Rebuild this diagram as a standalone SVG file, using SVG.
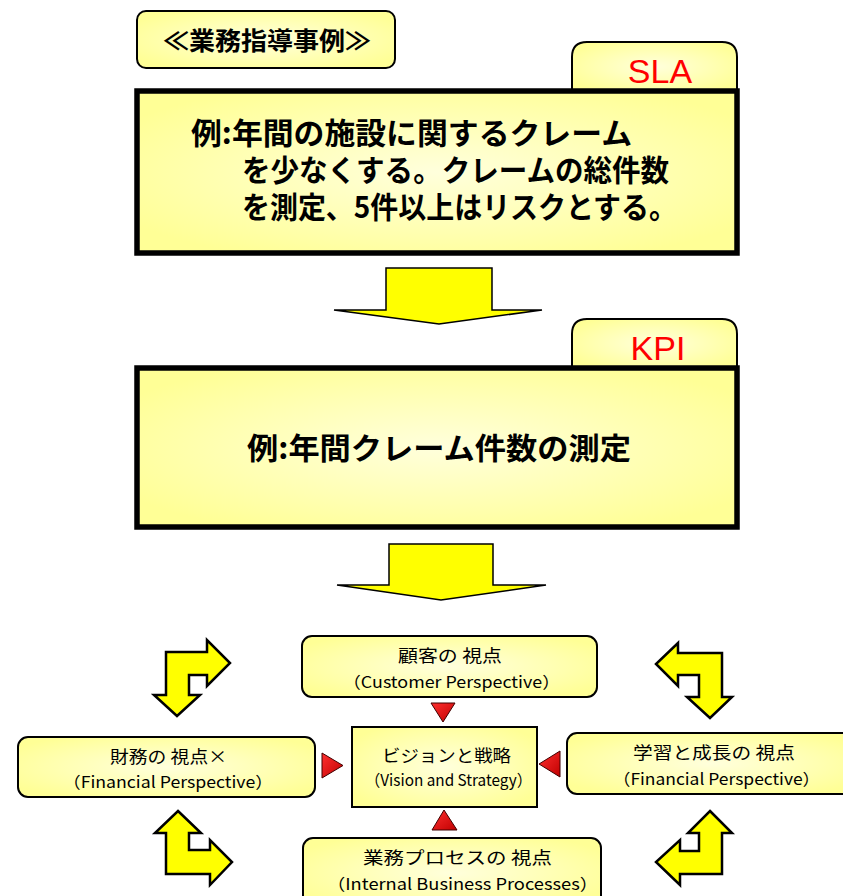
<svg xmlns="http://www.w3.org/2000/svg" width="843" height="896" viewBox="0 0 843 896">
<defs>
<radialGradient id="yg" cx="50%" cy="50%" r="60%">
<stop offset="0" stop-color="#ffffdc"/>
<stop offset="1" stop-color="#ffff96"/>
</radialGradient>
<linearGradient id="rg" x1="0" y1="0" x2="1" y2="1">
<stop offset="0" stop-color="#ff3030"/>
<stop offset="1" stop-color="#c00000"/>
</linearGradient>
<style>
.bx{fill:url(#yg);stroke:#000;stroke-width:2}
.big{fill:url(#yg);stroke:#000;stroke-width:5.5}
.tab{fill:url(#yg);stroke:#000;stroke-width:2}
.jb{font-family:"Noto Sans CJK JP","Noto Sans CJK SC",sans-serif;font-weight:700;font-size:30px;fill:#000}
.tt{font-family:"Noto Sans CJK JP","Noto Sans CJK SC",sans-serif;font-weight:700;font-size:25px;fill:#000}
.lab{font-family:"Liberation Sans",Arial,sans-serif;font-size:34px;fill:#ff0000}
.jp{font-family:"Noto Sans CJK JP","Noto Sans CJK SC",sans-serif;font-size:17px;fill:#000}
.en{font-family:"Noto Sans CJK JP","Noto Sans CJK SC",sans-serif;font-size:16px;fill:#000}
.ar{fill:#ffff00;stroke:#000;stroke-width:1.5;stroke-linejoin:miter}
.ba{fill:#ffff00;stroke:#000;stroke-width:2.5;stroke-linejoin:miter}
.tri{fill:url(#rg);stroke:#400000;stroke-width:1}
</style>
</defs>
<rect width="843" height="896" fill="#ffffff"/>

<g id="title">
<rect class="bx" x="137" y="11" width="258" height="57" rx="9"/>
<text class="tt" x="163" y="50" textLength="208" lengthAdjust="spacingAndGlyphs">≪業務指導事例≫</text>
</g>

<g id="sla">
<path class="tab" d="M572,91 V57 Q572,42 587,42 H722 Q737,42 737,57 V91"/>
<text class="lab" x="660" y="83" text-anchor="middle">SLA</text>
<rect class="big" x="137" y="91" width="600" height="162"/>
<text class="jb"><tspan x="191" y="144" textLength="441" lengthAdjust="spacingAndGlyphs">例:年間の施設に関するクレーム</tspan><tspan x="242" y="181" textLength="427" lengthAdjust="spacingAndGlyphs">を少なくする。クレームの総件数</tspan><tspan x="242" y="218" textLength="435" lengthAdjust="spacingAndGlyphs">を測定、5件以上はリスクとする。</tspan></text>
</g>

<g id="kpi">
<path class="tab" d="M572,368 V334 Q572,319 587,319 H722 Q737,319 737,334 V368"/>
<text class="lab" x="658" y="360" text-anchor="middle">KPI</text>
<rect class="big" x="137" y="368" width="600" height="159"/>
<text class="jb" x="247" y="459" textLength="384" lengthAdjust="spacingAndGlyphs">例:年間クレーム件数の測定</text>
</g>

<g id="customer">
<rect class="bx" x="302" y="636" width="295" height="61" rx="10"/>
<text class="jp" x="398" y="662" textLength="104" lengthAdjust="spacingAndGlyphs">顧客の 視点</text>
<text class="en" x="343" y="688" textLength="217" lengthAdjust="spacingAndGlyphs">（Customer Perspective）</text>
</g>

<g id="vision">
<rect class="bx" x="352" y="727" width="185" height="80"/>
<text class="jp" x="382" y="762" textLength="129" lengthAdjust="spacingAndGlyphs">ビジョンと戦略</text>
<text class="en" x="365" y="786" textLength="167" lengthAdjust="spacingAndGlyphs">（Vision and Strategy）</text>
</g>

<g id="financial">
<rect class="bx" x="18" y="737" width="297" height="60" rx="10"/>
<text class="jp" x="110" y="763" textLength="117" lengthAdjust="spacingAndGlyphs">財務の 視点×</text>
<text class="en" x="63" y="788" textLength="210" lengthAdjust="spacingAndGlyphs">（Financial Perspective）</text>
</g>

<g id="learning">
<rect class="bx" x="567" y="733" width="290" height="61" rx="10"/>
<text class="jp" x="633" y="759" textLength="162" lengthAdjust="spacingAndGlyphs">学習と成長の 視点</text>
<text class="en" x="613" y="785" textLength="207" lengthAdjust="spacingAndGlyphs">（Financial Perspective）</text>
</g>

<g id="business">
<rect class="bx" x="303" y="838" width="298" height="70" rx="10"/>
<text class="jp" x="363" y="864" textLength="189" lengthAdjust="spacingAndGlyphs">業務プロセスの 視点</text>
<text class="en" x="327" y="890" textLength="271" lengthAdjust="spacingAndGlyphs">（Internal Business Processes）</text>
</g>

<g id="connectors">
<path class="ar" d="M386,268 H492 V310 H542 L439,324 L334,310 H386 Z"/>
<path class="ar" d="M389,544 H493 V585 H546 L441,600 L337,585 H389 Z"/>
<path class="tri" d="M431,703 H455 L443,722 Z"/>
<path class="tri" d="M322,753 L343,765.5 L322,778 Z"/>
<path class="tri" d="M560,751 L539,764 L560,777 Z"/>
<path class="tri" d="M444,810 L457,830 H432 Z"/>
<path class="ba" d="M166,652 H207 V640 L230,663 L207,686 V675 H189 V695 H200 L177,716 L154,695 H166 Z"/>
<path class="ba" d="M178,811 L201,833 H189 V850 H210 V840 L232,862 L210,885 V874 H166 V833 H155 Z"/>
<path class="ba" d="M722,653 H678 V643 L656,664 L678,686 V675 H699 V697 H687 L710,718 L732,697 H722 Z"/>
<path class="ba" d="M710,811 L732,833 H722 V874 H680 V885 L656,862 L680,840 V851 H699 V833 H688 Z"/>
</g>
</svg>
